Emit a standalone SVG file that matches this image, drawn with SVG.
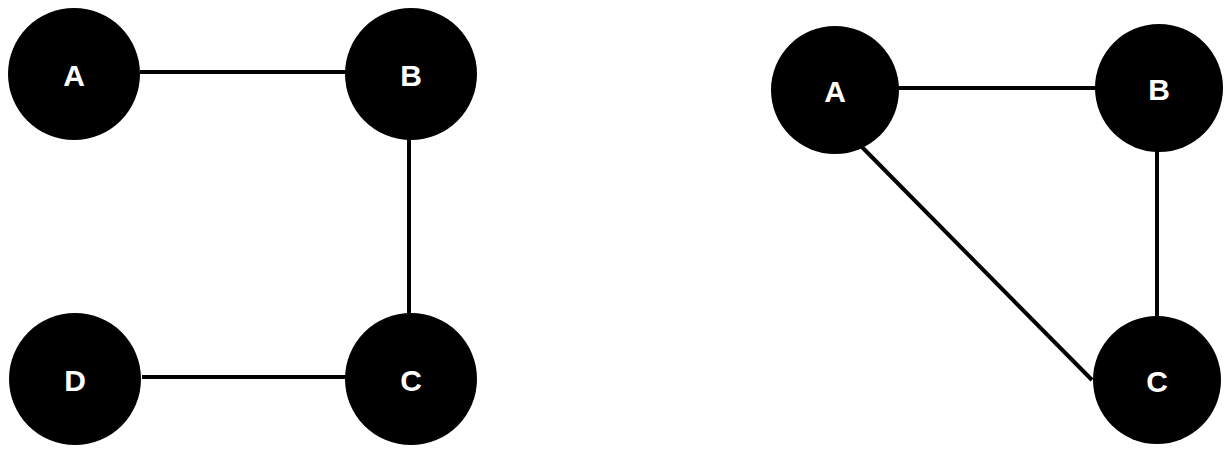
<svg xmlns="http://www.w3.org/2000/svg" width="1224" height="466" viewBox="0 0 1224 466">
<style>
.n{fill:#000}
.t{fill:#fff;font-family:"Liberation Sans",Arial,sans-serif;font-weight:bold;font-size:30px;text-anchor:middle;dominant-baseline:central}
.e{stroke:#000;stroke-width:4;fill:none}
</style>
<rect width="1224" height="466" fill="#fff"/>
<g id="connectors">
<line class="e" x1="140" y1="72" x2="346" y2="72"/>
<line class="e" x1="409" y1="138" x2="409" y2="314"/>
<line class="e" x1="142" y1="377" x2="346" y2="377"/>
<line class="e" x1="898" y1="88" x2="1096" y2="88"/>
<line class="e" x1="1157" y1="150" x2="1157" y2="318"/>
<line class="e" x1="857" y1="142" x2="1092" y2="380"/>
</g>
<g id="L_A"><circle class="n" cx="74" cy="74" r="66"/><text class="t" x="74" y="75">A</text></g>
<g id="L_B"><circle class="n" cx="411" cy="74" r="66"/><text class="t" x="411" y="75">B</text></g>
<g id="L_C"><circle class="n" cx="411" cy="379" r="66"/><text class="t" x="411" y="380">C</text></g>
<g id="L_D"><circle class="n" cx="75" cy="379" r="66"/><text class="t" x="75" y="380">D</text></g>
<g id="R_A"><circle class="n" cx="835" cy="90" r="64"/><text class="t" x="835" y="91">A</text></g>
<g id="R_B"><circle class="n" cx="1159" cy="88" r="64"/><text class="t" x="1159" y="89">B</text></g>
<g id="R_C"><circle class="n" cx="1157" cy="380" r="64"/><text class="t" x="1157" y="381">C</text></g>
</svg>
